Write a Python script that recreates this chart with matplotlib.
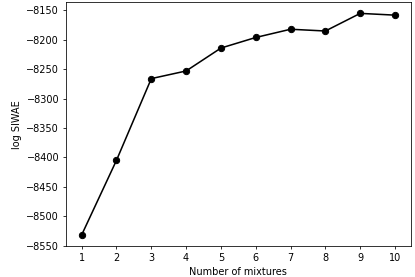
import matplotlib
matplotlib.use("Agg")
import matplotlib.pyplot as plt

mixtures = [1, 2, 3, 4, 5, 6, 7, 8, 9, 10]
log_siwae = [-8532, -8405, -8266, -8253, -8214, -8196, -8182, -8185, -8155, -8158]

dpi = 70
fig = plt.figure(figsize=(415 / dpi, 277 / dpi), dpi=dpi)
ax = fig.add_axes([66 / 415, 1 - 246 / 277, (410.7 - 66) / 415, (246 - 2.3) / 277])
ax.plot(mixtures, log_siwae, "o-", color="black", lw=1.6, ms=6.5)
ax.set_xticks(mixtures)
ax.set_xlabel("Number of mixtures")
ax.set_ylabel("log SIWAE")
fig.savefig("out.png", dpi=dpi)
